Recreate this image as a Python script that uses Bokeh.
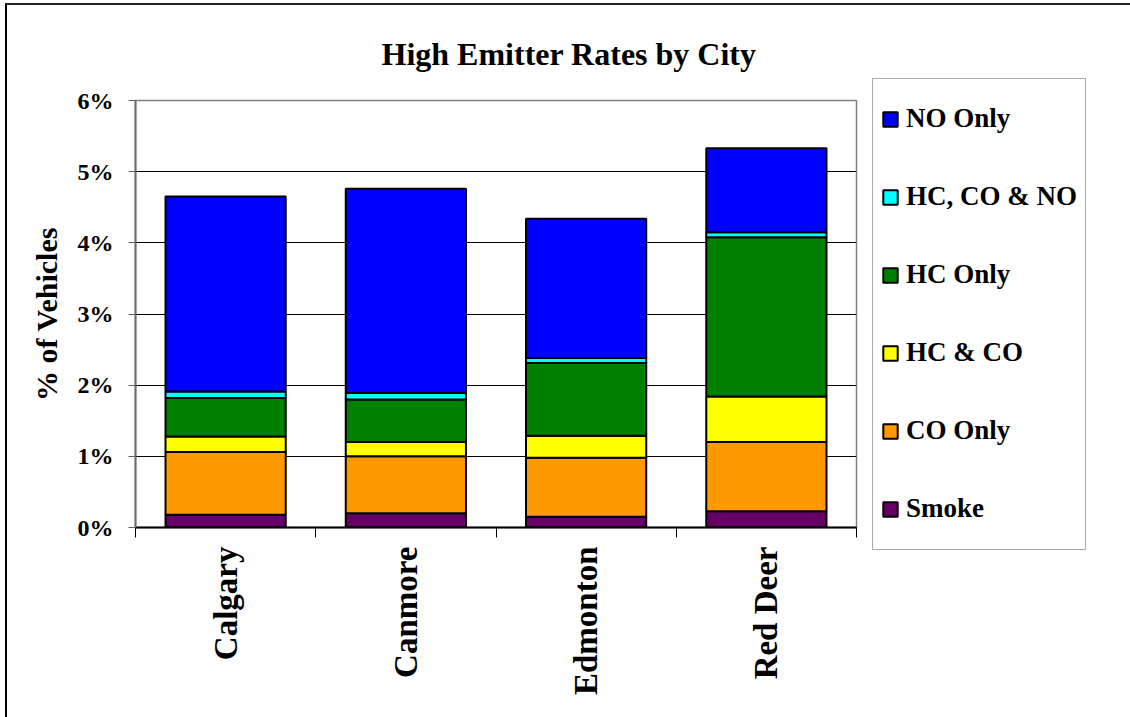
from math import pi

from bokeh.plotting import figure
from bokeh.models import (ColumnDataSource, Range1d, LinearAxis, FixedTicker,
                          PrintfTickFormatter, Legend, LegendItem)
from bokeh.embed import file_html
from bokeh.resources import INLINE

# High emitter rates (% of vehicles) per city, by emission category
cities = ["Calgary", "Canmore", "Edmonton", "Red Deer"]
smoke = [0.18, 0.20, 0.15, 0.23]
co_only = [0.88, 0.80, 0.83, 0.97]
hc_and_co = [0.22, 0.20, 0.31, 0.64]
hc_only = [0.54, 0.60, 1.02, 2.24]
hc_co_no = [0.09, 0.09, 0.07, 0.07]
no_only = [2.74, 2.87, 1.96, 1.18]

series_keys = ["smoke", "co_only", "hc_and_co", "hc_only", "hc_co_no", "no_only"]
series_labels = ["Smoke", "CO Only", "HC & CO", "HC Only", "HC, CO & NO", "NO Only"]
series_colors = ["#660066", "#FF9900", "#FFFF00", "#008000", "#00FFFF", "#0000FF"]
y_ticks = [0, 1, 2, 3, 4, 5, 6]

FONT = "Liberation Serif"

# each city occupies one unit-wide slot; bars sit at the slot centres
slot_edges = list(range(len(cities) + 1))
slot_centres = [i + 0.5 for i in range(len(cities))]

source = ColumnDataSource(dict(x=slot_centres, city=cities, smoke=smoke, co_only=co_only,
                               hc_and_co=hc_and_co, hc_only=hc_only, hc_co_no=hc_co_no,
                               no_only=no_only))

# the page frame line sits a few pixels in from the top-left corner
p = figure(x_range=Range1d(0, len(cities)), y_range=Range1d(0, 6),
           frame_width=721, frame_height=427, output_backend="svg", toolbar_location=None,
           x_axis_location=None, min_border_left=128, min_border_right=274,
           min_border_top=95, min_border_bottom=190)
p.margin = (3, 0, 0, 5)
p.styles = {"border-left": "2px solid #000000", "border-top": "2px solid #222222"}

p.title.text = "High Emitter Rates by City"
p.title.align = "left"
p.title.vertical_align = "middle"
p.title.offset = 246
p.title.standoff = 56
p.title.text_font = FONT
p.title.text_font_style = "bold"
p.title.text_font_size = "32px"
p.title.text_color = "black"

p.outline_line_color = "#808080"
p.outline_line_width = 1.5
p.background_fill_color = "white"
p.border_fill_color = "white"

yax = p.yaxis[0]
yax.ticker = FixedTicker(ticks=y_ticks)
yax.formatter = PrintfTickFormatter(format="%d%%")
yax.major_label_text_font = FONT
yax.major_label_text_font_style = "bold"
yax.major_label_text_font_size = "24px"
yax.major_label_text_color = "black"
yax.major_label_standoff = 15
yax.major_tick_out = 7
yax.major_tick_in = 0
yax.major_tick_line_color = "#606060"
yax.minor_tick_line_color = None
yax.axis_line_color = "#707070"
yax.axis_line_width = 2
yax.axis_label = "% of Vehicles"
yax.axis_label_text_font = FONT
yax.axis_label_text_font_style = "bold"
yax.axis_label_text_font_size = "30px"
yax.axis_label_text_color = "black"
yax.axis_label_standoff = 12

p.ygrid.ticker = FixedTicker(ticks=y_ticks)
p.ygrid.grid_line_color = "black"
p.ygrid.grid_line_width = 1
p.xgrid.grid_line_color = None

# tick marks between the city slots
slot_axis = LinearAxis(ticker=FixedTicker(ticks=slot_edges),
                       major_label_text_font_size="0px", major_label_standoff=0,
                       major_tick_out=10, major_tick_in=0, major_tick_line_color="black",
                       minor_tick_line_color=None, axis_line_color="black", axis_line_width=2)
p.add_layout(slot_axis, "below")

# city names under each slot, reading upwards
city_axis = LinearAxis(ticker=FixedTicker(ticks=slot_centres),
                       major_label_overrides={c: name for c, name in zip(slot_centres, cities)},
                       axis_line_color=None, major_tick_line_color=None,
                       minor_tick_line_color=None, major_tick_out=0, major_tick_in=0,
                       major_label_orientation=pi / 2, major_label_standoff=9,
                       major_label_text_font=FONT, major_label_text_font_style="bold",
                       major_label_text_font_size="33px", major_label_text_color="black")
p.add_layout(city_axis, "below")

renderers = p.vbar_stack(series_keys, x="x", width=0.667, source=source,
                         fill_color=series_colors, line_color="black", line_width=2)

items = [LegendItem(label=lab, renderers=[r])
         for lab, r in reversed(list(zip(series_labels, renderers)))]
legend = Legend(items=items, location="center_left", padding=8, spacing=14, margin=16,
                label_height=64, glyph_width=18, glyph_height=18, label_standoff=7,
                label_text_font=FONT, label_text_font_style="bold", label_text_font_size="27px",
                label_text_color="black", border_line_color="#555555", border_line_width=1.5,
                background_fill_color="white", background_fill_alpha=1)
p.add_layout(legend, "right")

open("out.html", "w").write(file_html(p, INLINE))
